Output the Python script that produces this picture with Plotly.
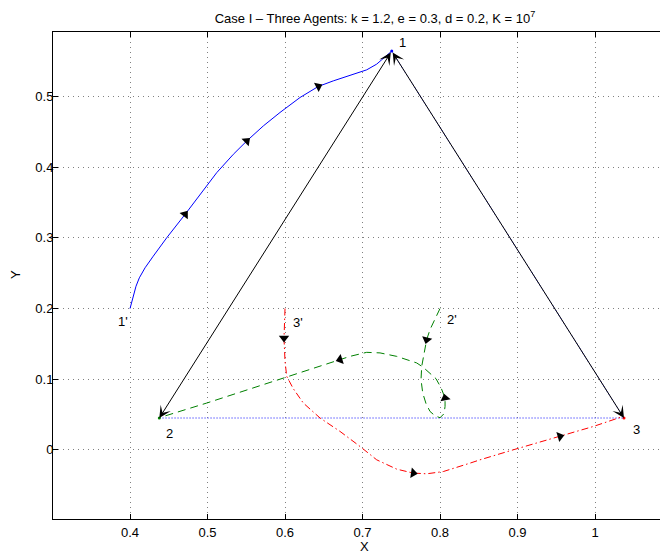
import numpy as np
import plotly.graph_objects as go

# ---------------- data ----------------
# final formation vertices
vert_labels = ["1", "2", "3"]
vert_x = [0.7377, 0.4378, 1.0374]
vert_y = [0.5646, 0.0450, 0.0450]

# initial positions
init_labels = ["1'", "2'", "3'"]
init_x = [0.400, 0.800, 0.600]
init_y = [0.200, 0.200, 0.200]

# agent 1 trajectory (1' -> 1)
traj1_x = [0.400, 0.4043, 0.4077, 0.412, 0.4194, 0.430, 0.4474, 0.471, 0.4903, 0.5119,
           0.5333, 0.5506, 0.572, 0.5935, 0.6194, 0.643, 0.6623, 0.688, 0.7054, 0.7183,
           0.729, 0.7377]
traj1_y = [0.200, 0.2174, 0.2316, 0.2435, 0.2577, 0.2742, 0.3003, 0.3333, 0.3617, 0.3925,
           0.4184, 0.4373, 0.4586, 0.4776, 0.4989, 0.5145, 0.5224, 0.5319, 0.538, 0.5461,
           0.5556, 0.5646]
arrows1_x = [0.471, 0.5506, 0.643]
arrows1_y = [0.3333, 0.4373, 0.5145]

# agent 2 trajectory (2' -> 2)
traj2_x = [0.800, 0.7948, 0.7871, 0.7828, 0.7785, 0.7764, 0.7755, 0.7777, 0.782, 0.7871,
           0.7935, 0.800, 0.8052, 0.8065, 0.8065, 0.8013, 0.7948, 0.7871, 0.7781, 0.7699,
           0.7561, 0.7441, 0.7226, 0.7054, 0.6839, 0.671, 0.6409, 0.6022, 0.5506, 0.499,
           0.443, 0.4378]
traj2_y = [0.200, 0.1872, 0.1702, 0.156, 0.1323, 0.1182, 0.0993, 0.0804, 0.0652, 0.0543,
           0.0482, 0.0454, 0.0511, 0.0614, 0.0733, 0.0879, 0.1007, 0.1088, 0.117, 0.123,
           0.1284, 0.1323, 0.1372, 0.138, 0.1323, 0.1277, 0.1173, 0.1031, 0.0844, 0.0662,
           0.0472, 0.0450]
arrows2_x = [0.7828, 0.8065, 0.671]
arrows2_y = [0.156, 0.0733, 0.1277]

# agent 3 trajectory (3' -> 3)
traj3_x = [0.600, 0.5987, 0.600, 0.6022, 0.6107, 0.6236, 0.6452, 0.671, 0.6968, 0.7183,
           0.7441, 0.7655, 0.7828, 0.8043, 0.8387, 0.8516, 0.8946, 0.9548, 0.9978, 1.0323,
           1.0374]
traj3_y = [0.200, 0.1584, 0.1252, 0.104, 0.0865, 0.0662, 0.045, 0.026, 0.0047, -0.0142,
           -0.0274, -0.033, -0.034, -0.0308, -0.0189, -0.0142, 0.0, 0.0189, 0.033, 0.0458,
           0.0450]
arrows3_x = [0.5987, 0.7655, 0.9548]
arrows3_y = [0.1584, -0.033, 0.0189]

x_ticks = [0.4, 0.5, 0.6, 0.7, 0.8, 0.9, 1.0]
x_ticktext = ["0.4", "0.5", "0.6", "0.7", "0.8", "0.9", "1"]
y_ticks = [0.0, 0.1, 0.2, 0.3, 0.4, 0.5]
y_ticktext = ["0", "0.1", "0.2", "0.3", "0.4", "0.5"]

# ---------------- layout geometry ----------------
# the page body has an 8px margin, so the figure is sized to fit the window
OFF = 8
W, H = 668 - OFF, 554 - OFF
ML, MR, MT, MB = 53 - OFF, 0, 32 - OFF, 554 - 519
XR = [0.3006, 1.0942]
YR = [-0.098, 0.5916]
pw, ph = W - ML - MR, H - MT - MB
sx = pw / (XR[1] - XR[0])
sy = ph / (YR[1] - YR[0])

FONT = "Liberation Sans, Arial, Helvetica, sans-serif"


def arrow_angles(tx, ty, ax, ay):
    tx, ty = np.asarray(tx), np.asarray(ty)
    out = []
    for x, y in zip(ax, ay):
        d = (tx - x) ** 2 + (ty - y) ** 2
        i = int(np.argmin(d))
        i0, i1 = max(i - 1, 0), min(i + 1, len(tx) - 1)
        dx = (tx[i1] - tx[i0]) * sx
        dy = -(ty[i1] - ty[i0]) * sy
        out.append(float(np.degrees(np.arctan2(dx, -dy))))
    return out


fig = go.Figure()

# blue dotted formation sides (2 -> 3 -> 1)
fig.add_trace(go.Scatter(x=[vert_x[1], vert_x[2], vert_x[0]],
                         y=[vert_y[1], vert_y[2], vert_y[0]],
                         mode="lines", line=dict(color="#5a5aff", width=1, dash="1.5px,1.5px"),
                         hoverinfo="skip"))

trajs = [
    (traj1_x, traj1_y, arrows1_x, arrows1_y, "#0000ff", "solid"),
    (traj2_x, traj2_y, arrows2_x, arrows2_y, "#008000", "8px,5px"),
    (traj3_x, traj3_y, arrows3_x, arrows3_y, "#ff0000", "7px,3px,1.5px,3px"),
]
for tx, ty, ax, ay, col, dash in trajs:
    fig.add_trace(go.Scatter(x=tx, y=ty, mode="lines",
                             line=dict(color=col, width=1, dash=dash), hoverinfo="skip"))
    fig.add_trace(go.Scatter(x=[tx[-1]], y=[ty[-1]], mode="markers",
                             marker=dict(color=col, size=3), hoverinfo="skip"))
    fig.add_trace(go.Scatter(x=ax, y=ay, mode="markers",
                             marker=dict(symbol="triangle-up", size=9, color="black",
                                         angle=arrow_angles(tx, ty, ax, ay),
                                         line=dict(width=0)),
                             hoverinfo="skip"))

annotations = []
# double-headed black arrows 1<->2 and 1<->3
for j in (1, 2):
    annotations.append(dict(x=vert_x[j], y=vert_y[j], ax=vert_x[0], ay=vert_y[0],
                            xref="x", yref="y", axref="x", ayref="y", text="",
                            showarrow=True, arrowhead=3, startarrowhead=3,
                            arrowside="end+start", arrowsize=2, startarrowsize=2,
                            arrowwidth=1, arrowcolor="black"))

label_shift = {"1": (11, 9), "2": (10, -15), "3": (13, -11),
               "1'": (-7, -13), "2'": (12, -11), "3'": (13, -14)}
for lab, x, y in list(zip(vert_labels, vert_x, vert_y)) + list(zip(init_labels, init_x, init_y)):
    dx, dy = label_shift[lab]
    annotations.append(dict(x=x, y=y, xref="x", yref="y", text=lab, showarrow=False,
                            xanchor="center", yanchor="middle",
                            xshift=dx, yshift=dy, font=dict(family=FONT, size=13, color="black")))

# axis labels (positions given in window pixels, converted to paper units)
annotations.append(dict(x=(364 - 53) / pw, y=-(546 - 519) / ph, xref="paper", yref="paper",
                        xanchor="center", yanchor="middle",
                        text="X", showarrow=False, font=dict(family=FONT, size=13, color="black")))
annotations.append(dict(x=(15 - 53) / pw, y=(519 - 275) / ph, xref="paper", yref="paper",
                        xanchor="center", yanchor="middle",
                        text="Y", textangle=-90, showarrow=False,
                        font=dict(family=FONT, size=13, color="black")))

grid = dict(showgrid=True, gridcolor="#808080", gridwidth=1, griddash="1px,4px",
            zeroline=False, showline=True, linecolor="black", linewidth=1,
            ticks="inside", ticklen=5, tickcolor="black", tickwidth=1,
            tickfont=dict(family=FONT, size=13, color="black"))

fig.update_layout(
    width=W, height=H,
    margin=dict(l=ML, r=MR, t=MT, b=MB),
    paper_bgcolor="white", plot_bgcolor="white",
    showlegend=False,
    title=dict(text="Case I – Three Agents: k = 1.2, e = 0.3, d = 0.2, K = 10<sup>7</sup>",
               x=(375 - OFF) / W, xanchor="center", y=1 - (18 - OFF) / H, yanchor="middle",
               font=dict(family=FONT, size=13, color="black")),
    xaxis=dict(range=XR, tickvals=x_ticks, ticktext=x_ticktext, mirror="ticks",
               ticklabelstandoff=1, **grid),
    yaxis=dict(range=YR, tickvals=y_ticks, ticktext=y_ticktext, mirror=False,
               ticklabelstandoff=-4, **grid),
    annotations=annotations,
)

fig.write_html("out.html")
